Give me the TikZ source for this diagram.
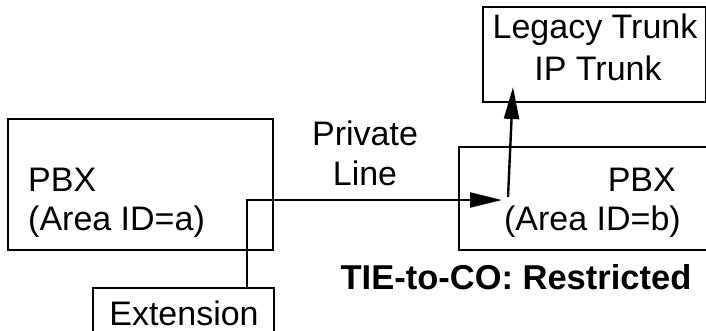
\documentclass[tikz,border=0pt]{standalone}
\usepackage{fontspec}
\setmainfont{Liberation Sans}
\usetikzlibrary{arrows.meta}
\usetikzlibrary{positioning}

\tikzset{
  box/.style = {draw, line width=2.4pt, inner sep=0pt},
  lbl/.style = {inner sep=0pt, font=\fontsize{34}{37}\selectfont},
  link/.style = {line width=2.4pt, -{Triangle[length=32pt,width=15pt]}}
}

\begin{document}
\begin{tikzpicture}[x=1pt, y=-1pt]
		\useasboundingbox (0,0) rectangle (706,330);
		% boxes
		\node[box, minimum width=265pt, minimum height=131pt] (pbxa) at (140.5,184.5) {};
		\node[box, minimum width=250pt, minimum height=103pt] (pbxb) at (584,198.5) {};
		\node[box, minimum width=223pt, minimum height=95pt] (trunk) at (594.5,54.5) {};
		\node[box, minimum width=181pt, minimum height=60pt, anchor=north] (ext) at (183.5,287) {};
		% texts
		\node[lbl, anchor=west] (pbxaname) at (28,180) {PBX};
		\node[lbl, anchor=west] (pbxaid) at (28,222) {(Area ID=a)};
		\node[lbl, anchor=east] (pbxbname) at (676,180) {PBX};
		\node[lbl, anchor=east] (pbxbid) at (681,222) {(Area ID=b)};
		\node[lbl] (trunktop) at (595,30) {Legacy Trunk};
		\node[lbl] (trunkbot) at (598,68) {IP Trunk};
		\node[lbl] (extname) at (184,313) {Extension};
		\node[lbl] (line1) at (365,133) {Private};
		\node[lbl] (line2) at (365,173) {Line};
		\node[lbl, font=\fontsize{34.5}{37}\selectfont\bfseries] (rule) at (516,277) {TIE-to-CO: Restricted};
		% connectors
		\coordinate (extup) at (247,287);
		\coordinate (entry) at (502,200);
		\coordinate (start) at (508,197);
		\coordinate (exit) at (513,87);
		\draw[link] (extup) |- (entry);
		\draw[link] (start) -- (exit);
	\end{tikzpicture}
\end{document}
